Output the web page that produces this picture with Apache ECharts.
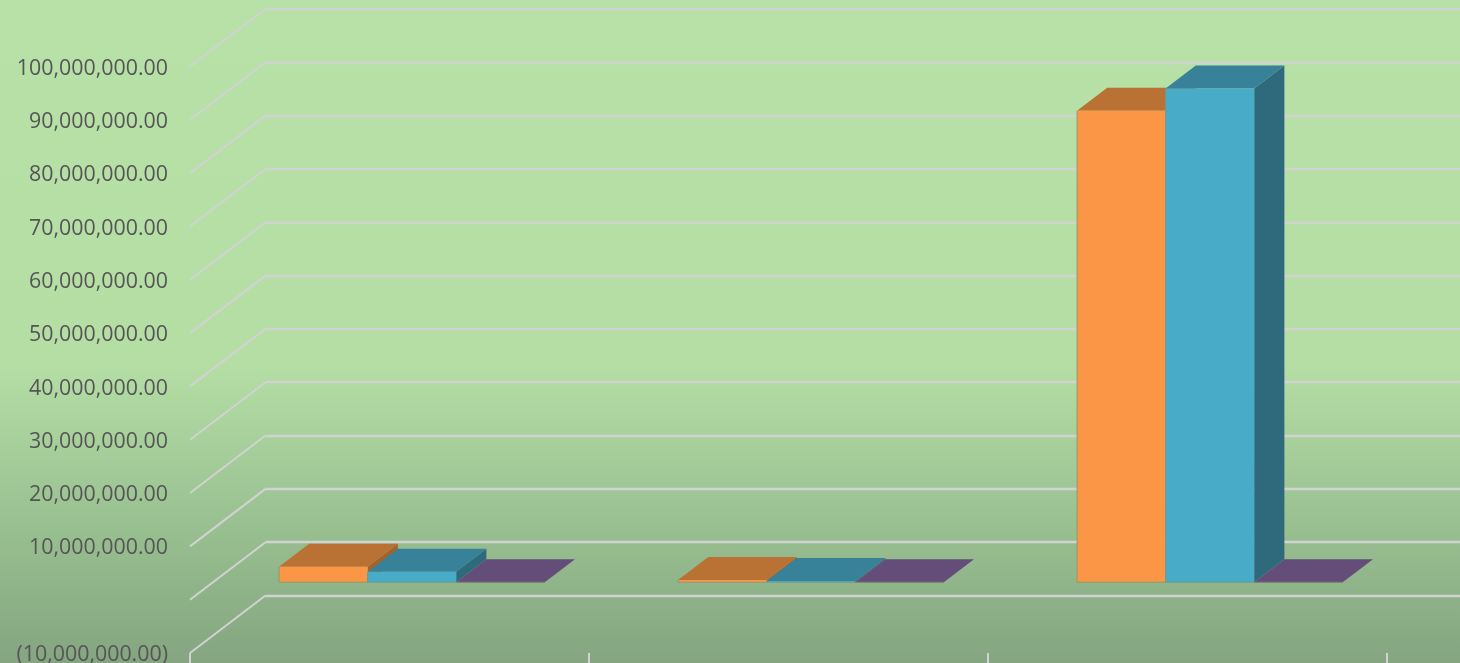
<!DOCTYPE html>
<html>
<head>
<meta charset="utf-8">
<style>html,body{margin:0;padding:0;overflow:hidden}#c{width:1460px;height:663px}</style>
<script src="https://cdn.jsdelivr.net/npm/echarts@6/dist/echarts.min.js"></script>
</head>
<body>
<div id="c"></div>
<script>
const categories = ['Category 1', 'Category 2', 'Category 3'];
const seriesOrange = [2900000, 400000, 88400000];
const seriesBlue = [1950000, 200000, 92600000];
const seriesPurple = [0, 0, 0];
const axisTicks = [-10000000, 0, 10000000, 20000000, 30000000, 40000000, 50000000, 60000000, 70000000, 80000000, 90000000, 100000000];

const WALL_DX = 75.5, WALL_DY = 57.5;      // depth of the floor, front edge to back wall
const FRONT_DX = 22.4, FRONT_DY = 17.5;    // bar front plane offset from the front edge
const BAR_K = 0.4;                         // bar depth as a fraction of floor depth
const BAR_W = 0.222;                       // bar width as a fraction of a category band
const GRID = '#D2D2D2';

function fmt(v) {
  if (v === 0) return '';
  const s = Math.abs(v).toLocaleString('en-US', {minimumFractionDigits: 2, maximumFractionDigits: 2});
  return v < 0 ? '(' + s + ')' : s;
}

function barSeries(name, values, slot, front, top, side, edge) {
  return {
    type: 'custom', name, xAxisIndex: 0, yAxisIndex: 0, clip: false, z: 5,
    data: values.map((v, i) => [i, v]),
    encode: {x: 0, y: 1},
    renderItem(params, api) {
      const band = api.size([1, 0])[0];
      const w = band * BAR_W;
      const c0 = api.coord([api.value(0), 0]);
      const c1 = api.coord([api.value(0), api.value(1)]);
      const x0 = c0[0] + FRONT_DX + (slot - 1.5) * w, x1 = x0 + w;
      const yb = c0[1] - FRONT_DY, yt = c1[1] - FRONT_DY;
      const dx = WALL_DX * BAR_K, dy = WALL_DY * BAR_K;
      const poly = (pts, fill) => ({type: 'polygon', shape: {points: pts}, style: {fill}});
      const kids = [];
      if (yb - yt > 0.2) {
        kids.push(poly([[x1, yb], [x1 + dx, yb - dy], [x1 + dx, yt - dy], [x1, yt]], side));
      }
      kids.push(poly([[x0, yt], [x1, yt], [x1 + dx, yt - dy], [x0 + dx, yt - dy]], top));
      if (yb - yt > 0.2) {
        kids.push(poly([[x0, yb], [x1, yb], [x1, yt], [x0, yt]], front));
      }
      kids.push({
        type: 'polyline',
        shape: {points: [[x0, yt], [x0, yb], [x1, yb]]},
        style: {stroke: edge, lineWidth: 0.9, fill: null}
      });
      return {type: 'group', children: kids};
    }
  };
}

const option = {
  animation: false,
  backgroundColor: {
    type: 'linear', x: 0, y: 0, x2: 0, y2: 1,
    colorStops: [
      {offset: 0, color: '#B7E1A7'},
      {offset: 0.55, color: '#B5DEA5'},
      {offset: 0.8, color: '#98BF90'},
      {offset: 1, color: '#84A580'}
    ]
  },
  grid: [
    {left: 190, width: 1197, top: 66.5, bottom: 10, outerBoundsMode: 'none'},
    {left: 265.5, right: -10, top: 9, bottom: 67.5, outerBoundsMode: 'none'}
  ],
  xAxis: [
    {type: 'category', gridIndex: 0, data: categories, boundaryGap: true,
     axisLine: {show: false, onZero: false},
     axisTick: {show: true, alignWithLabel: false, length: 11, lineStyle: {color: GRID, width: 2}},
     axisLabel: {show: false}, splitLine: {show: false}},
    {type: 'category', gridIndex: 1, data: categories, show: false}
  ],
  yAxis: [
    {type: 'value', gridIndex: 0, min: -10000000, max: 100000000, interval: 10000000,
     axisLine: {show: false}, axisTick: {show: false}, splitLine: {show: false},
     axisLabel: {formatter: fmt, margin: 22, color: '#555555', fontFamily: 'Open Sans', fontSize: 21.4, verticalAlign: 'top', lineHeight: 4}},
    {type: 'value', gridIndex: 1, min: -10000000, max: 100000000, interval: 10000000,
     axisLine: {show: false}, axisTick: {show: false}, axisLabel: {show: false},
     splitLine: {show: true, lineStyle: {color: GRID, width: 2.4}}}
  ],
  series: [
    {
      type: 'custom', name: 'side wall', xAxisIndex: 0, yAxisIndex: 0, clip: false, z: 2,
      data: axisTicks.map(v => [0, v]),
      encode: {x: 0, y: 1},
      renderItem(params, api) {
        const band = api.size([1, 0])[0];
        const p = api.coord([0, api.value(1)]);
        const x = p[0] - band / 2;
        return {
          type: 'line',
          shape: {x1: x, y1: p[1], x2: x + WALL_DX, y2: p[1] - WALL_DY},
          style: {stroke: GRID, lineWidth: 2}
        };
      }
    },
    barSeries('Series 1', seriesOrange, 0, '#FB9646', '#B97233', '#A5622C', '#8A9A6A'),
    barSeries('Series 2', seriesBlue, 1, '#48ABC7', '#378299', '#2F6A7C', '#6F9A8C'),
    barSeries('Series 3', seriesPurple, 2, '#8064A2', '#654D7A', '#54406A', '#6F7F70')
  ]
};
echarts.init(document.getElementById('c')).setOption(option);
</script>
</body>
</html>
